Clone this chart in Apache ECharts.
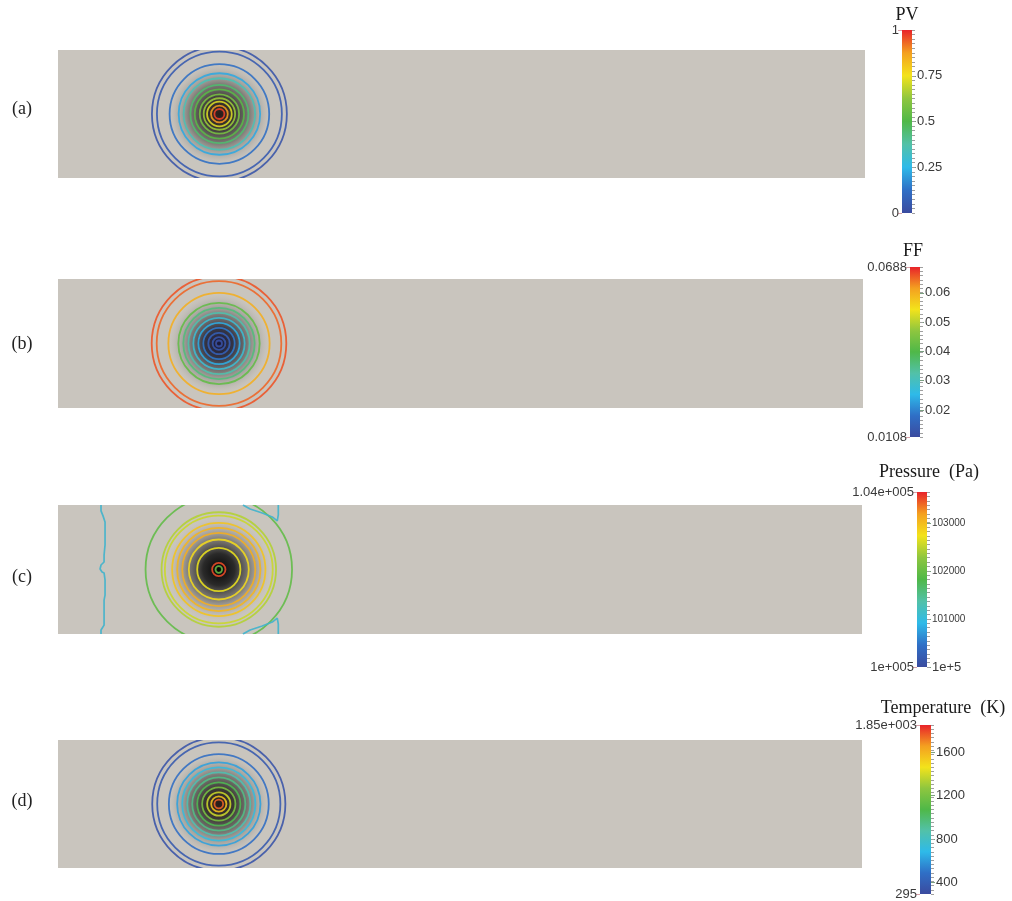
<!DOCTYPE html>
<html>
<head>
<meta charset="utf-8">
<script src="https://cdn.jsdelivr.net/npm/echarts@6/dist/echarts.min.js"></script>
<style>html,body{margin:0;padding:0;background:#fff;}#chart{width:1012px;height:901px;}</style>
</head>
<body>
<div id="chart"></div>
<script>
// ---------- data ----------
const panelLabels = ['(a)', '(b)', '(c)', '(d)'];
const colorbarTitles = ['PV', 'FF', 'Pressure  (Pa)', 'Temperature  (K)'];
const domainX = [0, 100];
const domainY = [-8, 8];
const sourceCenter = [20, 0];
const shadingRadius = [6.6, 6.4, 6.6, 6.6];

// PV contours
const pvRadii  = [8.36, 7.74, 6.17, 5.05, 4.43, 3.60, 3.06, 2.44, 1.95, 1.53, 1.04, 0.62];
const pvLevels = [0.03, 0.05, 0.12, 0.22, 0.35, 0.45, 0.52, 0.58, 0.64, 0.72, 0.88, 0.97];
// FF contours
const ffRadii  = [8.36, 7.74, 6.29, 5.05, 4.43, 3.81, 3.19, 2.57, 1.95, 1.33, 0.79, 0.37];
const ffLevels = [0.066, 0.065, 0.060, 0.042, 0.036, 0.032, 0.028, 0.024, 0.019, 0.015, 0.013, 0.012];
// Pressure contours
const pRadii  = [9.11, 7.12, 6.71, 5.80, 5.18, 4.55, 3.73, 2.69, 0.83, 0.41];
const pLevels = [101950, 102450, 102550, 102950, 103050, 103100, 102800, 102700, 103500, 102000];
// Pressure 101000 Pa iso-line (left wavy line and right hooks)
const pIsoLeftX  = [5.35, 5.35, 5.60, 5.85, 5.85, 5.73, 5.73, 5.35, 5.23, 5.48, 5.73, 5.85, 5.85, 5.73, 5.73, 5.35, 5.35];
const pIsoLeftY  = [8.0, 7.27, 6.65, 5.9, 3.04, 1.8, 0.93, 0.56, 0.06, -0.31, -0.43, -1.3, -3.17, -3.79, -6.9, -7.5, -8.0];
const pIsoRightX = [23.0, 23.9, 25.4, 26.65, 27.27, 27.4, 27.4];
const pIsoRightTopY = [8.0, 7.5, 7.0, 6.52, 6.02, 6.77, 8.0];
const pIsoRightBotY = [-8.0, -7.5, -7.0, -6.52, -6.02, -6.77, -8.0];
const pIsoLevel = 101000;
// Temperature contours
const tRadii  = [8.28, 7.66, 6.21, 5.18, 4.55, 3.93, 3.31, 2.69, 2.07, 1.45, 0.95, 0.54];
const tLevels = [340, 370, 480, 620, 720, 850, 950, 1050, 1200, 1380, 1560, 1750];

// colour bars
const cbMin = [0, 0.0108, 100000, 295];
const cbMax = [1, 0.0688, 103650, 1850];
const cbEndLabels = [['0', '1'], ['0.0108', '0.0688'], ['1e+005', '1.04e+005'], ['295', '1.85e+003']];
const cbTickValues = [[0.25, 0.5, 0.75], [0.02, 0.03, 0.04, 0.05, 0.06], [100000, 101000, 102000, 103000], [400, 800, 1200, 1600]];
const palette = ['#3b4b9f', '#2f6fc6', '#2ebae9', '#52c1a8', '#4fb848', '#8ec63f', '#f3e31b', '#f4a020', '#e8232a'];

// ---------- layout ----------
const panelGrids = [
  {left: 58, top: 50, width: 807, height: 128},
  {left: 58, top: 279, width: 805, height: 129},
  {left: 58, top: 505, width: 804, height: 129},
  {left: 58, top: 740, width: 804, height: 128}
];
const cbGrids = [
  {left: 902, top: 30, width: 10, height: 183},
  {left: 910, top: 267, width: 10, height: 170},
  {left: 917, top: 492, width: 10, height: 175},
  {left: 920, top: 725, width: 11, height: 169}
];
const labelPos = [[22, 109], [22, 344], [22, 577], [22, 801]];
const titlePos = [[907, 15], [913, 251], [929, 472], [943, 708]];
const shadingStops = [
  [[0, 'rgba(35,22,20,0.97)'], [0.3, 'rgba(45,43,40,0.9)'], [0.55, 'rgba(90,88,85,0.7)'], [0.8, 'rgba(150,147,142,0.35)'], [1, 'rgba(200,196,189,0)']],
  [[0, 'rgba(20,20,55,0.97)'], [0.3, 'rgba(40,40,55,0.9)'], [0.55, 'rgba(90,88,88,0.7)'], [0.8, 'rgba(150,147,142,0.35)'], [1, 'rgba(200,196,189,0)']],
  [[0, 'rgba(5,5,5,1)'], [0.3, 'rgba(30,30,30,0.93)'], [0.55, 'rgba(85,83,80,0.7)'], [0.8, 'rgba(150,147,142,0.35)'], [1, 'rgba(200,196,189,0)']],
  [[0, 'rgba(35,22,20,0.97)'], [0.3, 'rgba(45,43,40,0.9)'], [0.55, 'rgba(90,88,85,0.7)'], [0.8, 'rgba(150,147,142,0.35)'], [1, 'rgba(200,196,189,0)']]
];

const ringSets = [[pvRadii, pvLevels], [ffRadii, ffLevels], [pRadii, pLevels], [tRadii, tLevels]];

function clipOf(params) {
  const cs = params.coordSys;
  return {type: 'rect', shape: {x: cs.x, y: cs.y, width: cs.width, height: cs.height}};
}

function ringItem(params, api) {
  const c = api.coord([api.value(0), api.value(1)]);
  const r = api.size([api.value(2), 0])[0];
  return {
    type: 'group',
    clipPath: clipOf(params),
    children: [{
      type: 'circle',
      shape: {cx: c[0], cy: c[1], r: r},
      style: {fill: 'none', stroke: api.visual('color'), lineWidth: 1.8, opacity: 0.88}
    }]
  };
}

function makeShading(i) {
  return function (params, api) {
    const c = api.coord([api.value(0), api.value(1)]);
    const r = api.size([api.value(2), 0])[0];
    return {
      type: 'group',
      clipPath: clipOf(params),
      children: [{
        type: 'circle',
        shape: {cx: c[0], cy: c[1], r: r},
        style: {
          fill: {type: 'radial', x: 0.5, y: 0.5, r: 0.5,
            colorStops: shadingStops[i].map(s => ({offset: s[0], color: s[1]}))}
        }
      }]
    };
  };
}

function barItem(params, api) {
  const p1 = api.coord([0, api.value(1)]);
  const p2 = api.coord([1, api.value(0)]);
  const n = palette.length;
  return {
    type: 'rect',
    shape: {x: p1[0], y: p1[1], width: p2[0] - p1[0], height: p2[1] - p1[1]},
    style: {
      fill: {type: 'linear', x: 0, y: 0, x2: 0, y2: 1,
        colorStops: palette.map((c, k) => ({offset: 1 - k / (n - 1), color: c}))}
    }
  };
}

const grid = [], xAxis = [], yAxis = [], series = [], visualMap = [], graphic = [];

for (let i = 0; i < 4; i++) {
  grid.push(Object.assign({show: true, backgroundColor: '#c9c5be', borderWidth: 0}, panelGrids[i]));
  xAxis.push({gridIndex: i, type: 'value', min: domainX[0], max: domainX[1], show: false});
  yAxis.push({gridIndex: i, type: 'value', min: domainY[0], max: domainY[1], show: false});
}
for (let i = 0; i < 4; i++) {
  grid.push(Object.assign({show: false}, cbGrids[i]));
  xAxis.push({gridIndex: 4 + i, type: 'value', min: 0, max: 1, show: false});
}

// panel series
for (let i = 0; i < 4; i++) {
  series.push({
    type: 'custom', xAxisIndex: i, yAxisIndex: i, silent: true, z: 1,
    renderItem: makeShading(i),
    data: [[sourceCenter[0], sourceCenter[1], shadingRadius[i]]]
  });
  const radii = ringSets[i][0], levels = ringSets[i][1];
  const ringData = radii.map((r, k) => [sourceCenter[0], sourceCenter[1], r, levels[k]]);
  series.push({
    type: 'custom', xAxisIndex: i, yAxisIndex: i, silent: true, z: 2,
    renderItem: ringItem,
    encode: {x: 0, y: 1},
    data: ringData
  });
  visualMap.push({
    type: 'continuous', show: false, seriesIndex: series.length - 1, dimension: 3,
    min: cbMin[i], max: cbMax[i], inRange: {color: palette}
  });
}
// pressure iso-line pieces
const isoColor = '#3fb2cc';
[[pIsoLeftX, pIsoLeftY], [pIsoRightX, pIsoRightTopY], [pIsoRightX, pIsoRightBotY]].forEach(pair => {
  series.push({
    type: 'line', xAxisIndex: 2, yAxisIndex: 2, silent: true, z: 3,
    showSymbol: false, symbol: 'none',
    lineStyle: {color: isoColor, width: 1.7, opacity: 0.9},
    data: pair[0].map((x, k) => [x, pair[1][k]])
  });
});

// colour bars
const labelFont = {fontFamily: 'Liberation Sans, Arial, sans-serif', color: '#3a3a3a'};
for (let i = 0; i < 4; i++) {
  const g = 4 + i;
  const baseIdx = yAxis.length;
  const mn = cbMin[i], mx = cbMax[i];
  // left: end labels
  yAxis.push({
    gridIndex: g, type: 'value', position: 'left', min: mn, max: mx,
    axisLine: {show: false}, splitLine: {show: false},
    axisTick: {show: true, customValues: [mn, mx], length: 4, lineStyle: {color: '#d8a0a8', width: 1}},
    axisLabel: {
      show: true, customValues: [mn, mx], margin: 3, fontSize: 13,
      fontFamily: labelFont.fontFamily, color: labelFont.color,
      formatter: v => (Math.abs(v - mn) < Math.abs(v - mx) ? cbEndLabels[i][0] : cbEndLabels[i][1])
    }
  });
  // right: labelled values
  yAxis.push({
    gridIndex: g, type: 'value', position: 'right', min: mn, max: mx,
    axisLine: {show: false}, splitLine: {show: false},
    axisTick: {show: true, customValues: cbTickValues[i], length: 4, lineStyle: {color: '#7aa080', width: 1}},
    axisLabel: {
      show: true, customValues: cbTickValues[i], margin: 5,
      fontSize: i === 2 ? 10 : 13,
      fontFamily: labelFont.fontFamily, color: labelFont.color,
      formatter: v => (i === 2 && v === 100000 ? '{big|1e+5}' : String(v)),
      rich: {big: {fontSize: 13, fontFamily: labelFont.fontFamily, color: labelFont.color}}
    }
  });
  // right: minor tick ladder
  yAxis.push({
    gridIndex: g, type: 'value', position: 'right', min: 0, max: 40, interval: 1,
    axisLine: {show: false}, splitLine: {show: false}, axisLabel: {show: false},
    axisTick: {show: true, length: 3, lineStyle: {color: '#a0a0a0', width: 1}}
  });
  series.push({
    type: 'custom', xAxisIndex: g, yAxisIndex: baseIdx, silent: true,
    renderItem: barItem,
    data: [[mn, mx]]
  });
}

// texts
for (let i = 0; i < 4; i++) {
  graphic.push({
    type: 'text', x: labelPos[i][0], y: labelPos[i][1],
    style: {text: panelLabels[i], fontFamily: 'Liberation Serif, Times New Roman, serif', fontSize: 18,
      fill: '#222', align: 'center', verticalAlign: 'middle'}
  });
  graphic.push({
    type: 'text', x: titlePos[i][0], y: titlePos[i][1],
    style: {text: colorbarTitles[i], fontFamily: 'Liberation Serif, Times New Roman, serif', fontSize: 18,
      fill: '#1a1a1a', align: 'center', verticalAlign: 'middle'}
  });
}

const chart = echarts.init(document.getElementById('chart'), null, {renderer: 'canvas'});
chart.setOption({
  animation: false,
  backgroundColor: '#ffffff',
  grid, xAxis, yAxis, series, visualMap, graphic
});
</script>
</body>
</html>
